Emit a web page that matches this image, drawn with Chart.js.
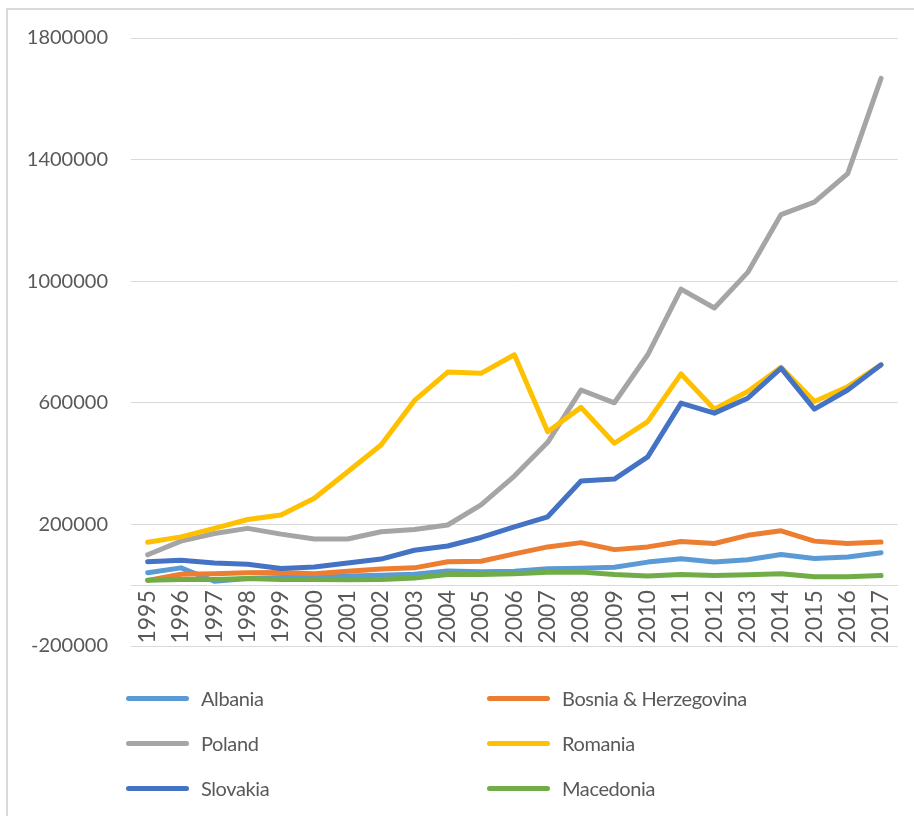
<!DOCTYPE html>
<html>
<head>
<meta charset="utf-8">
<script src="https://cdn.jsdelivr.net/npm/chart.js@4"></script>
<style>
    body { margin: 0; background: #fff; }
    #wrap { position: relative; width: 914px; height: 816px; overflow: hidden; }
    #frame { position: absolute; left: 6px; top: 8px; width: 940px; height: 840px;
             border-left: 2px solid #d9d9d9; border-top: 2px solid #d9d9d9; }
    #chart { position: absolute; left: 0; top: 0; }
    #legend { position: absolute; left: 0; top: 0; width: 914px; height: 816px; pointer-events: none;
              font-family: Lato, "Open Sans", sans-serif; font-size: 20px; color: #595959;
              letter-spacing: -0.4px; }
    .item { position: absolute; display: flex; align-items: center; }
    .swatch { width: 63px; height: 5px; border-radius: 3px; margin-right: 12px; }
</style>
</head>
<body>
<div id="wrap">
    <div id="frame"></div>
    <canvas id="chart" width="914" height="816"></canvas>
    <div id="legend"></div>
</div>
<script>
var years = ["1995", "1996", "1997", "1998", "1999", "2000", "2001", "2002", "2003", "2004", "2005",
    "2006", "2007", "2008", "2009", "2010", "2011", "2012", "2013", "2014", "2015", "2016", "2017"]

var albania = [41000, 57000, 13000, 22000, 25000, 27000, 30000, 33000, 36000, 47000, 44000,
    46000, 54000, 56000, 59000, 76000, 87000, 76000, 84000, 101000, 88000, 93000, 107000]
var bosnia = [16000, 36000, 38000, 41000, 42000, 38000, 46000, 53000, 57000, 77000, 79000,
    103000, 126000, 140000, 117000, 126000, 144000, 137000, 164000, 179000, 145000, 137000, 142000]
var poland = [100000, 145000, 170000, 187000, 168000, 152000, 152000, 176000, 183000, 198000, 264000,
    359000, 470000, 642000, 600000, 758000, 974000, 912000, 1029000, 1219000, 1260000, 1354000, 1667000]
var romania = [141000, 159000, 187000, 216000, 231000, 286000, 373000, 461000, 607000, 701000, 697000,
    758000, 505000, 585000, 467000, 538000, 695000, 579000, 637000, 717000, 604000, 653000, 725000]
var slovakia = [77000, 82000, 73000, 69000, 55000, 60000, 73000, 86000, 115000, 129000, 157000,
    192000, 225000, 343000, 349000, 422000, 599000, 566000, 615000, 714000, 579000, 642000, 725000]
var macedonia = [16000, 19000, 19000, 22000, 19000, 19000, 18000, 19000, 24000, 35000, 35000,
    38000, 43000, 43000, 35000, 30000, 35000, 32000, 34000, 38000, 28000, 28000, 32000]

var seriesNames = ["Albania", "Bosnia & Herzegovina", "Poland", "Romania", "Slovakia", "Macedonia"]
var seriesData = [albania, bosnia, poland, romania, slovakia, macedonia]
var lineColors = ["#5b9bd5", "#ed7d31", "#a5a5a5", "#ffc000", "#4472c4", "#70ad47"]

var yTicks = [-200000, 200000, 600000, 1000000, 1400000, 1800000]

var font = "Lato, 'Open Sans', sans-serif"

var datasets = seriesNames.map(function (name, i) {
    return {
        label: name,
        data: seriesData[i],
        borderColor: lineColors[i],
        backgroundColor: lineColors[i],
        borderWidth: 5,
        borderCapStyle: "round",
        borderJoinStyle: "round",
        pointRadius: 0,
        tension: 0,
        // later series are drawn on top, like the original
        order: seriesNames.length - i
    }
})

var chart = new Chart("chart", {
    type: "line",
    data: { labels: years, datasets: datasets },
    options: {
        responsive: false,
        animation: false,
        layout: { padding: { top: 38, bottom: 170, left: 0, right: 16 } },
        plugins: {
            legend: { display: false },
            tooltip: { enabled: false }
        },
        scales: {
            x: {
                position: { y: 0 },
                offset: true,
                grid: { display: false, drawTicks: false },
                border: { display: true, color: "#d9d9d9", width: 1 },
                ticks: {
                    minRotation: 90, maxRotation: 90, padding: 5,
                    color: "#595959", font: { family: font, size: 23 }
                }
            },
            y: {
                min: yTicks[0],
                max: yTicks[yTicks.length - 1],
                ticks: {
                    stepSize: 400000, padding: 23,
                    color: "#595959", font: { family: font, size: 20 },
                    callback: function (v) { return String(v) }
                },
                grid: { color: "#d9d9d9", lineWidth: 1, drawTicks: false },
                border: { display: false },
                afterFit: function (scale) { scale.width = 131 }
            }
        }
    }
})

// legend, two columns like the original
var legendEl = document.getElementById("legend")
var colX = [126, 487]
var rowY = [698, 743, 788]
chart.data.datasets.forEach(function (ds, i) {
    var item = document.createElement("div")
    item.className = "item"
    item.style.left = colX[i % 2] + "px"
    item.style.top = (rowY[Math.floor(i / 2)] - 13) + "px"
    item.style.height = "26px"
    var sw = document.createElement("span")
    sw.className = "swatch"
    sw.style.background = ds.borderColor
    var txt = document.createElement("span")
    txt.innerText = ds.label
    item.appendChild(sw)
    item.appendChild(txt)
    legendEl.appendChild(item)
})
</script>
</body>
</html>
